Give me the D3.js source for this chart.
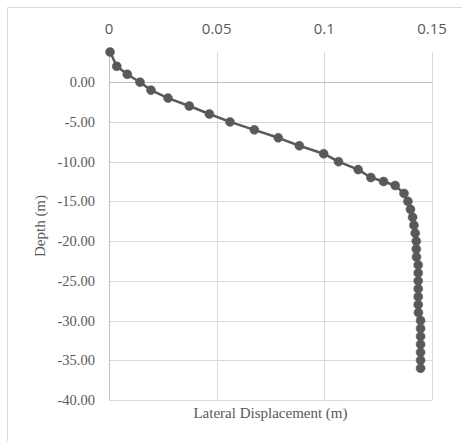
<!DOCTYPE html>
<html>
<head>
<meta charset="utf-8">
<script src="https://cdn.jsdelivr.net/npm/d3@7"></script>
<style>
  html, body { margin: 0; padding: 0; background: #fff; }
  svg { display: block; }
</style>
</head>
<body>
<svg id="chart" width="462" height="441"></svg>
<script>
// ---- data ----
const depths = [3.8, 2, 1, 0, -1, -2, -3, -4, -5, -6, -7, -8, -9, -10, -11, -12, -12.5, -13, -14, -15,
  -16, -17, -18, -19, -20, -21, -22, -23, -24, -25, -26, -27, -28, -29, -30, -31, -32, -33, -34, -35, -36];
const displacements = [0.0005, 0.0036, 0.0085, 0.0144, 0.0195, 0.0274, 0.0373, 0.0466, 0.0562, 0.0675,
  0.0786, 0.0884, 0.0997, 0.1066, 0.1157, 0.1216, 0.1275, 0.1329, 0.1370, 0.1388,
  0.1400, 0.1410, 0.1416, 0.1422, 0.1427, 0.1427, 0.1428, 0.1436, 0.1436, 0.1436,
  0.1436, 0.1436, 0.1436, 0.1437, 0.1447, 0.1447, 0.1447, 0.1447, 0.1447, 0.1447, 0.1447];
const xTicks = [0, 0.05, 0.1, 0.15];
const xTickLabels = ["0", "0.05", "0.1", "0.15"];
const yTicks = [0, -5, -10, -15, -20, -25, -30, -35, -40];
const yTickLabels = ["0.00", "-5.00", "-10.00", "-15.00", "-20.00", "-25.00", "-30.00", "-35.00", "-40.00"];
const xTitle = "Lateral Displacement (m)";
const yTitle = "Depth (m)";

// ---- layout ----
const svg = d3.select("#chart");
const pL = 109, pR = 432, pT = 52, pB = 400;
const x = d3.scaleLinear().domain([0, 0.15]).range([pL, pR]);
const y = d3.scaleLinear().domain([-40, 3.8]).range([pB, pT]);
const textCol = "#595959";

// chart border
svg.append("path")
  .attr("d", `M7.5,441 L7.5,7.5 L462,7.5`)
  .attr("fill", "none").attr("stroke", "#d9d9d9").attr("stroke-width", 1);

// gridlines
const g = svg.append("g");
g.selectAll(".hg").data(yTicks.filter(v => v !== 0)).enter().append("line")
  .attr("x1", pL).attr("x2", pR)
  .attr("y1", d => Math.round(y(d)) + 0.5).attr("y2", d => Math.round(y(d)) + 0.5)
  .attr("stroke", "#d9d9d9").attr("stroke-width", 1);
g.selectAll(".vg").data(xTicks.filter(v => v !== 0)).enter().append("line")
  .attr("x1", d => Math.round(x(d)) + 0.5).attr("x2", d => Math.round(x(d)) + 0.5)
  .attr("y1", pT).attr("y2", pB)
  .attr("stroke", "#d9d9d9").attr("stroke-width", 1);

// axis lines
svg.append("line")
  .attr("x1", pL).attr("x2", pR)
  .attr("y1", Math.round(y(0)) + 0.5).attr("y2", Math.round(y(0)) + 0.5)
  .attr("stroke", "#bfbfbf").attr("stroke-width", 1);
svg.append("line")
  .attr("x1", Math.round(x(0)) + 0.5).attr("x2", Math.round(x(0)) + 0.5)
  .attr("y1", pT).attr("y2", pB)
  .attr("stroke", "#bfbfbf").attr("stroke-width", 1);

// top x tick labels
svg.selectAll(".xl").data(xTicks).enter().append("text")
  .attr("x", d => x(d)).attr("y", 34)
  .attr("text-anchor", "middle")
  .attr("font-family", "'Open Sans', 'Liberation Sans', sans-serif")
  .attr("font-size", 15).attr("fill", textCol)
  .text((d, i) => xTickLabels[i]);

// left y tick labels
svg.selectAll(".yl").data(yTicks).enter().append("text")
  .attr("x", 95).attr("y", d => y(d) + 5)
  .attr("text-anchor", "end")
  .attr("font-family", "'Liberation Serif', 'Times New Roman', serif")
  .attr("font-size", 14.5).attr("fill", textCol)
  .text((d, i) => yTickLabels[i]);

// axis titles
svg.append("text")
  .attr("x", (pL + pR) / 2).attr("y", 418)
  .attr("text-anchor", "middle")
  .attr("font-family", "'Liberation Serif', 'Times New Roman', serif")
  .attr("font-size", 15).attr("fill", textCol)
  .text(xTitle);
svg.append("text")
  .attr("transform", `translate(45,${(pT + pB) / 2}) rotate(-90)`)
  .attr("text-anchor", "middle")
  .attr("font-family", "'Liberation Serif', 'Times New Roman', serif")
  .attr("font-size", 15).attr("fill", textCol)
  .text(yTitle);

// series
const pts = depths.map((d, i) => ({ d, v: displacements[i] }));
const line = d3.line().x(p => x(p.v)).y(p => y(p.d));
svg.append("path").datum(pts)
  .attr("d", line).attr("fill", "none")
  .attr("stroke", "#595959").attr("stroke-width", 2.5).attr("stroke-linejoin", "round");
svg.selectAll(".pt").data(pts).enter().append("circle")
  .attr("cx", p => x(p.v)).attr("cy", p => y(p.d)).attr("r", 4.5)
  .attr("fill", "#595959").attr("stroke", "#595959").attr("stroke-width", 0.5);
</script>
</body>
</html>
